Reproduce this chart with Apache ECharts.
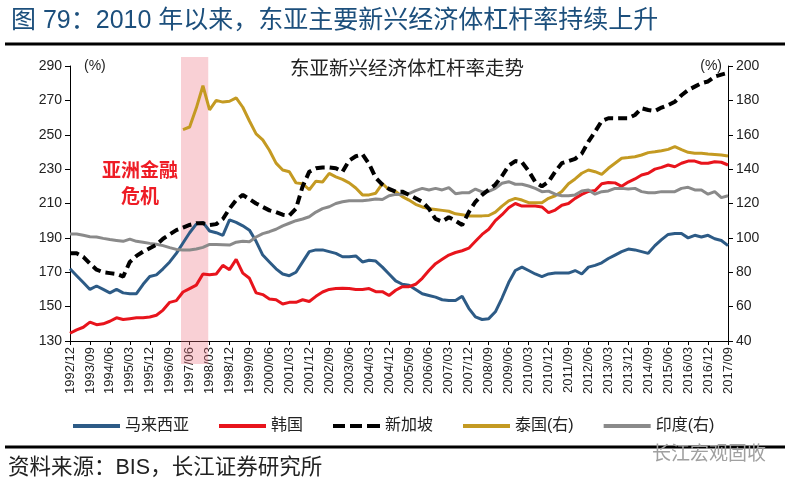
<!DOCTYPE html>
<html><head><meta charset="utf-8">
<script src="https://cdn.jsdelivr.net/npm/echarts@6/dist/echarts.min.js"></script>
<style>html,body{margin:0;padding:0;background:#fff}#c{width:789px;height:486px}</style>
</head><body><div id="c"></div>
<script>
// Quarter labels (1992/12 .. 2017/09)
const quarters = [
 '1992/12',
 '1993/03','1993/06','1993/09','1993/12','1994/03','1994/06','1994/09','1994/12',
 '1995/03','1995/06','1995/09','1995/12','1996/03','1996/06','1996/09','1996/12',
 '1997/03','1997/06','1997/09','1997/12','1998/03','1998/06','1998/09','1998/12',
 '1999/03','1999/06','1999/09','1999/12','2000/03','2000/06','2000/09','2000/12',
 '2001/03','2001/06','2001/09','2001/12','2002/03','2002/06','2002/09','2002/12',
 '2003/03','2003/06','2003/09','2003/12','2004/03','2004/06','2004/09','2004/12',
 '2005/03','2005/06','2005/09','2005/12','2006/03','2006/06','2006/09','2006/12',
 '2007/03','2007/06','2007/09','2007/12','2008/03','2008/06','2008/09','2008/12',
 '2009/03','2009/06','2009/09','2009/12','2010/03','2010/06','2010/09','2010/12',
 '2011/03','2011/06','2011/09','2011/12','2012/03','2012/06','2012/09','2012/12',
 '2013/03','2013/06','2013/09','2013/12','2014/03','2014/06','2014/09','2014/12',
 '2015/03','2015/06','2015/09','2015/12','2016/03','2016/06','2016/09','2016/12',
 '2017/03','2017/06','2017/09'
];
// Left axis (%)
const malaysia = [172,168,164,160,162,160,158,160,158,157.5, 157.5,163,167.5,168.5,172,176,181,187,193,198,
 199,194,193,191.5,200.5,199,197,194.5,188,180, 176,172,169,168,170,176,182,183,183,182,
 181,179,179,179.5,176,177,176.5,173,169,165, 163,162.5,160,157.5,156.5,155.5,154,153.5,153.5,156,
 149,144,142.5,143,147,155,164,171,173,171, 169,167.5,169,169.5,169.5,169.5,171,169,173,174,
 175.5,178,180,182,183.5,183,182,181,185.5,189, 192,192.5,192.5,190,191.5,190.5,191.5,189.5,188.5,185.5];
const korea = [134.5,136.5,138,141,139.5,140,141.5,143.5,142.5,143, 143.5,143.5,144,145,148,152.5,153.5,158.5,160.5,162.5,
 169,168.5,169,174,171.5,177.5,169.5,166.5,158,157, 154.5,154,151.5,152.5,152.5,154,153,156,158.5,160,
 160.5,160.7,160.5,160,160,160.5,158.7,158.7,156.5,159.5, 161.6,161.6,163,166.5,171,175,177.5,180,181.5,182.5,
 184,188,192,195,200,203.5,207.5,210,208.5,208.5, 208.5,208,204.7,206.2,209,210,213,215.3,217,217.5,
 221.5,222.2,222,220,222.5,224.3,226.6,227.6,230,231, 232.4,231.4,233.4,234.7,234.7,233.4,233.4,234.3,234,232.4];
const singapore = [181,181,179,175,171.5,170,169.5,169,167.5,176, 179.5,182,184,186,189.5,192,194.5,196,197.5,198.5,
 198.5,197.5,198,201,207,212,215,212.5,210,208, 206,205,203.5,203,207,220,228.5,230.5,231,231,
 230.5,228.5,235,237.5,238.6,233,225,221,218.5,216.9, 216.9,215,213,211,207,201,199.5,202,200,197.5,
 205,211,215,218,221,226,232,234.7,234,229, 222.5,220,222.7,228.5,233.5,234.7,236,239,246,251.8,
 258,259.6,259.5,259.6,259.6,261.5,265.4,264.4,263.8,265.8, 267.3,269.2,273,276,278,280,281,283.8,285,286];
// Right axis (%)
const thailand = [null,null,null,null,null,null,null,null,null,null, null,null,null,null,null,null,null,163,164.5,175.5,
 188.5,174.5,180,179,179.5,181.5,176,168,160.5,157, 151,143.5,139.5,138.5,132,131.5,128,133,132.5,137.5,
 135.5,134,132,129,125,125,126,131.5,128,127, 124,122,119.5,118,117,116.5,116,115.5,114,113.5,
 112.8,112.8,112.8,113,115,118.5,121.5,123,122,120.5, 120.5,120.5,123,124.5,127,131.5,134.3,137.6,139.5,138.5,
 137,140.5,143.4,146.3,146.7,147.2,148.2,149.6,150.1,150.7, 151.5,153.1,151.3,149.8,149.2,149.2,148.8,148.5,148.2,147.6];
const india = [102.3,102.3,101.5,100.7,100.5,99.7,99,98.5,98,99.3, 98,97.5,96.8,96.3,95.5,94.3,93.3,93,92.9,93.5,
 94.5,96.2,96.2,96,95.8,97.5,98,97.8,100.5,102.5, 103.6,105,107,108.5,110,111,112.3,115,117,118.1,
 120,121,121.6,121.6,121.6,122,122.6,122.3,124.5,125.3, 125.4,125.8,127.5,128.8,127.9,128.8,127.9,129.2,125.7,126.2,
 126.2,128.4,126.7,127,128.8,131.8,132.7,131.2,131.2,130.2, 128.8,126.9,127.2,125.4,124.5,124.5,125,127.3,127.9,125.4,
 126.9,127.3,128.8,128.8,128.5,128.8,126.9,126.3,126.3,126.9, 126.9,126.9,128.8,129.4,127.9,127.9,125.4,126.9,123.4,124.5];
// Asian financial crisis span (in quarter-index units on the x axis)
const crisisSpan = [16.7, 20.8];
const seriesNames = ['马来西亚','韩国','新加坡','泰国(右)','印度(右)'];

const FONT = '"Liberation Sans", Arial, "Noto Sans CJK SC", sans-serif';
const CJK = '"Noto Sans CJK SC", "Liberation Sans", sans-serif';
const pairs = arr => arr.map((v, i) => [i, v]);
const SOLID = 'path://M0,0L47,0L47,4L0,4Z';
const DASHED = 'path://M0,0h12v4h-12zM17,0h12v4h-12zM34,0h13v4h-13z';

const chart = echarts.init(document.getElementById('c'));
const lineBase = { type: 'line', symbol: 'none', showSymbol: false, connectNulls: false, z: 3 };
chart.setOption({
  animation: false,
  backgroundColor: '#fff',
  title: { text: '图 79：2010 年以来，东亚主要新兴经济体杠杆率持续上升', left: 6, top: 4,
    textStyle: { color: '#1c4f7c', fontSize: 25, fontWeight: 'normal', fontFamily: FONT } },
  grid: [
    { left: 70, right: 61, top: 66, bottom: 145 },
    { left: 70, right: 61, top: 57, bottom: 122 }
  ],
  xAxis: [
    { type: 'value', gridIndex: 0, min: 0, max: 99, interval: 3,
      axisLine: { lineStyle: { color: '#000', width: 1 } },
      axisTick: { show: true, length: 4, lineStyle: { color: '#000' } },
      splitLine: { show: false },
      axisLabel: { rotate: 90, fontSize: 13, color: '#222', margin: 6, fontFamily: FONT,
        formatter: v => quarters[v] || '' } },
    { type: 'value', gridIndex: 1, min: 0, max: 99, show: false }
  ],
  yAxis: [
    { type: 'value', gridIndex: 0, min: 130, max: 290, interval: 20, position: 'left',
      name: '(%)', nameLocation: 'end', nameGap: 0,
      nameTextStyle: { align: 'left', verticalAlign: 'middle', padding: [0, 0, 0, 14], fontSize: 14, color: '#222', fontFamily: FONT },
      axisLine: { show: true, lineStyle: { color: '#000', width: 1 } },
      axisTick: { show: true, length: 5, lineStyle: { color: '#000' } },
      splitLine: { show: false },
      axisLabel: { fontSize: 14, color: '#222', margin: 8, fontFamily: FONT } },
    { type: 'value', gridIndex: 0, min: 40, max: 200, interval: 20, position: 'right',
      name: '(%)', nameLocation: 'end', nameGap: 0,
      nameTextStyle: { align: 'right', verticalAlign: 'middle', padding: [0, 6, 6, 0], fontSize: 14, color: '#222', fontFamily: FONT },
      axisLine: { show: true, lineStyle: { color: '#000', width: 1 } },
      axisTick: { show: true, length: 5, lineStyle: { color: '#000' } },
      splitLine: { show: false },
      axisLabel: { fontSize: 14, color: '#222', margin: 8, fontFamily: FONT } },
    { type: 'value', gridIndex: 1, min: 0, max: 1, show: false }
  ],
  legend: {
    data: seriesNames.map(n => ({ name: n, icon: n === '新加坡' ? DASHED : SOLID })),
    top: 413, left: 68, itemWidth: 47, itemHeight: 4, itemGap: 30,
    textStyle: { fontSize: 16, color: '#222', fontFamily: FONT }
  },
  graphic: [
    { type: 'line', shape: { x1: 5, y1: 44, x2: 785, y2: 44 }, style: { stroke: '#000', lineWidth: 3 } },
    { type: 'line', shape: { x1: 5, y1: 447, x2: 785, y2: 447 }, style: { stroke: '#000', lineWidth: 3 } },
    { type: 'text', x: 407, y: 68, style: { text: '东亚新兴经济体杠杆率走势', fill: '#222', font: '19.5px ' + CJK, textAlign: 'center', textVerticalAlign: 'middle' } },
    { type: 'text', x: 140, y: 183, z: 10, style: { text: '亚洲金融\n危机', fill: '#ee1c25', font: 'bold 19px ' + CJK, textAlign: 'center', textVerticalAlign: 'middle', lineHeight: 26 } },
    { type: 'text', x: 8, y: 468, style: { text: '资料来源：BIS，长江证券研究所', fill: '#222', font: '21.5px ' + FONT, textVerticalAlign: 'middle' } },
    { type: 'text', x: 766, y: 453, style: { text: '长江宏观固收', fill: '#a0a0a0', font: '19px ' + CJK, textAlign: 'right', textVerticalAlign: 'middle' } }
  ],
  series: [
    { type: 'line', xAxisIndex: 1, yAxisIndex: 2, data: [], silent: true, z: 1,
      markArea: { silent: true, itemStyle: { color: 'rgba(235,110,125,0.32)' },
        data: [[{ xAxis: crisisSpan[0] }, { xAxis: crisisSpan[1] }]] } },
    Object.assign({}, lineBase, { name: seriesNames[0], yAxisIndex: 0, data: pairs(malaysia),
      lineStyle: { color: '#2d5b86', width: 3 }, itemStyle: { color: '#2d5b86' } }),
    Object.assign({}, lineBase, { name: seriesNames[1], yAxisIndex: 0, data: pairs(korea),
      lineStyle: { color: '#e8141c', width: 3 }, itemStyle: { color: '#e8141c' } }),
    Object.assign({}, lineBase, { name: seriesNames[3], yAxisIndex: 1, data: pairs(thailand),
      lineStyle: { color: '#c49a22', width: 3 }, itemStyle: { color: '#c49a22' } }),
    Object.assign({}, lineBase, { name: seriesNames[4], yAxisIndex: 1, data: pairs(india),
      lineStyle: { color: '#8a8a8a', width: 3 }, itemStyle: { color: '#8a8a8a' } }),
    Object.assign({}, lineBase, { name: seriesNames[2], yAxisIndex: 0, data: pairs(singapore),
      lineStyle: { color: '#000', width: 4, type: [9, 5] }, itemStyle: { color: '#000' } })
  ]
});
</script></body></html>
